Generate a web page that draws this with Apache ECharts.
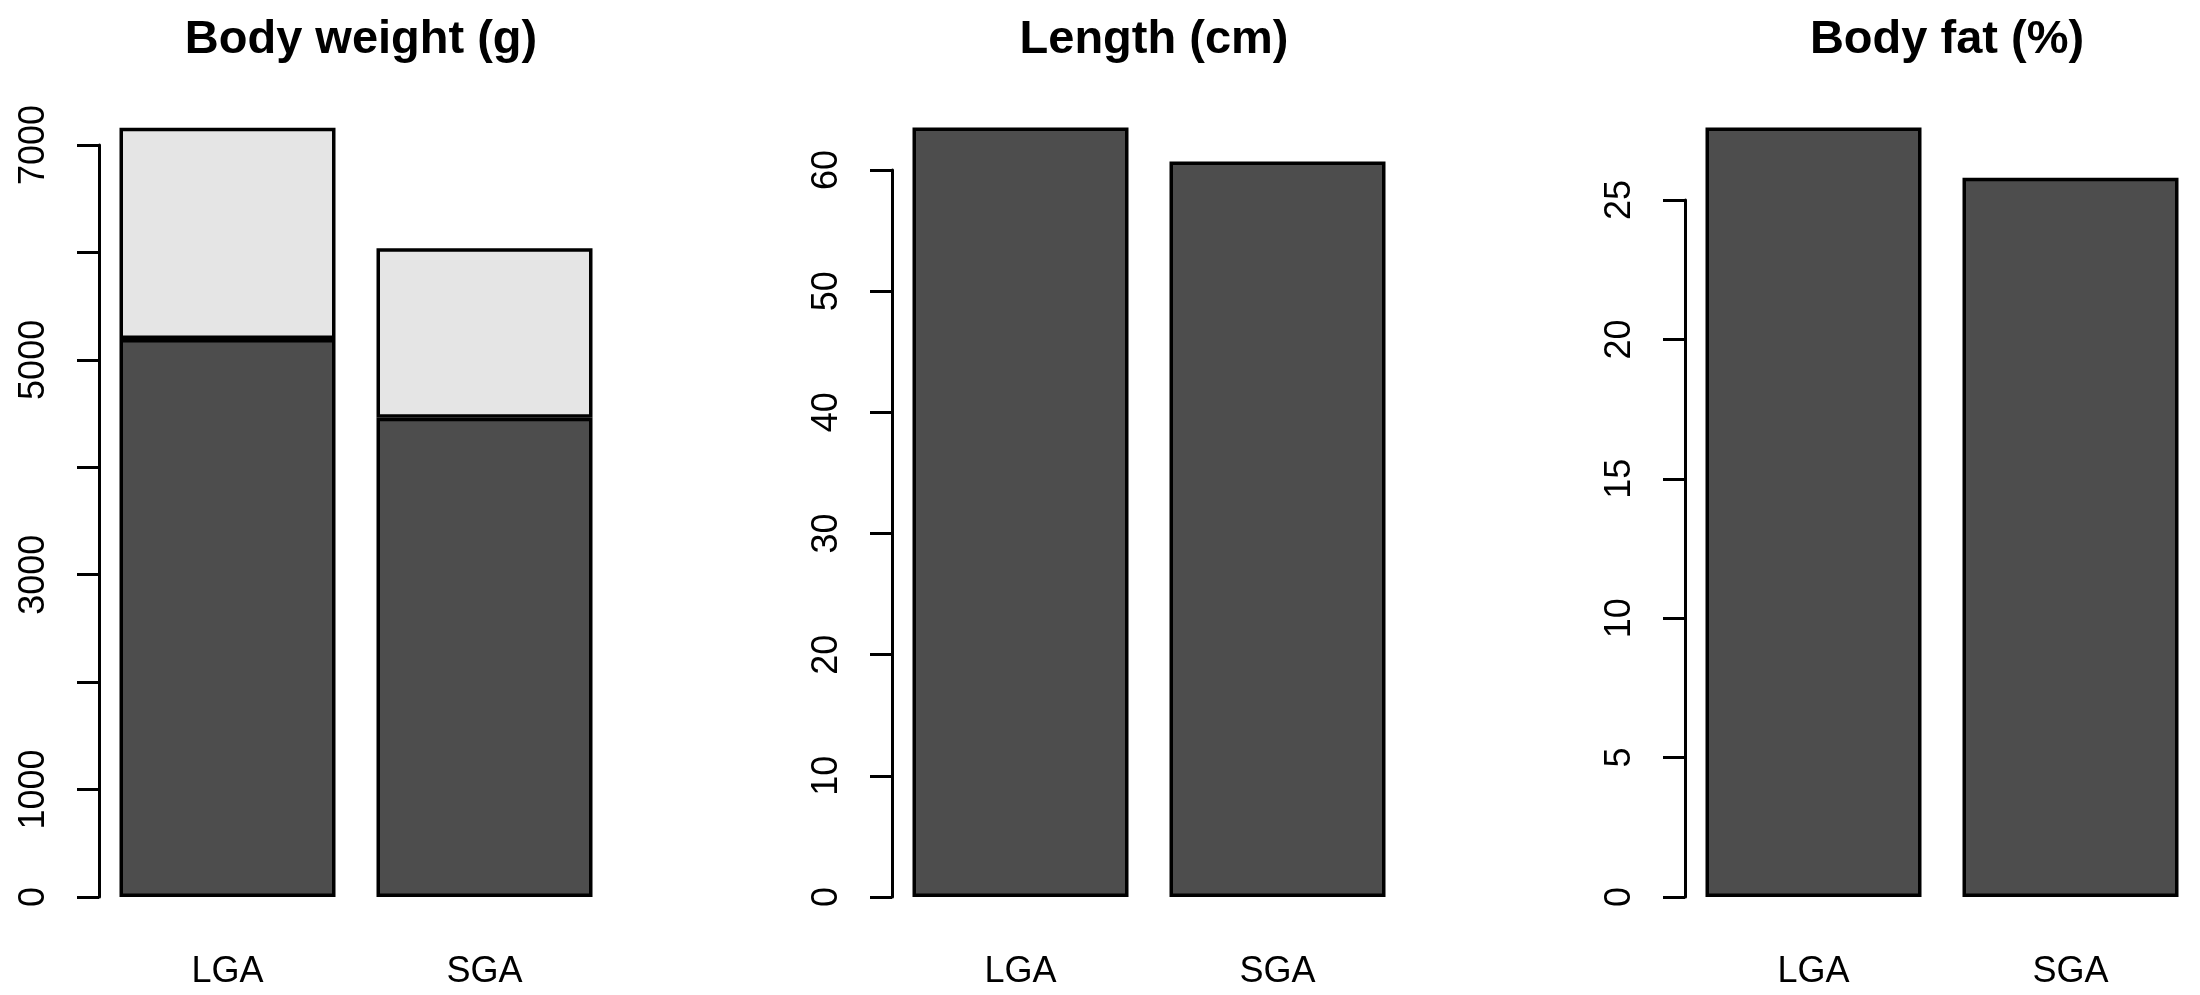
<!DOCTYPE html>
<html>
<head>
<meta charset="utf-8">
<script src="https://cdn.jsdelivr.net/npm/echarts@6/dist/echarts.min.js"></script>
<style>
html,body{margin:0;padding:0;background:#fff;}
#chart{width:2200px;height:995px;}
</style>
</head>
<body>
<div id="chart"></div>
<script>
// ---- data ----
const categories = ['LGA', 'SGA'];
const weightLean = [5195, 4460];     // dark lower segment (g)
const weightFat = [1965, 1580];      // light upper segment (g)
const lengthCm = [63.5, 60.7];
const bodyFatPct = [27.6, 25.8];
const titles = ['Body weight (g)', 'Length (cm)', 'Body fat (%)'];
const weightTickLabels = ['0', '1000', '3000', '5000', '7000'];
const lengthTickLabels = ['0', '10', '20', '30', '40', '50', '60'];
const fatTickLabels = ['0', '5', '10', '15', '20', '25'];

// ---- layout / style ----
const FONT = 'Liberation Sans, Arial, Helvetica, sans-serif';
const DARK = '#4d4d4d';
const LIGHT = '#e5e5e5';
const BW = 3.5;
const panels = [
  { left: 99,  top: 145, max: 7000, interval: 1000, labels: weightTickLabels },
  { left: 892, top: 170, max: 60,   interval: 10,   labels: lengthTickLabels },
  { left: 1685, top: 200, max: 25,  interval: 5,    labels: fatTickLabels }
];
const PLOT_W = 514;
const BOTTOM = 98;

const chart = echarts.init(document.getElementById('chart'), null, { renderer: 'canvas' });

const grid = panels.map(p => ({ left: p.left, top: p.top, width: PLOT_W, bottom: BOTTOM, containLabel: false }));
const xAxis = panels.map((p, i) => ({
  type: 'category', gridIndex: i, data: categories,
  axisLine: { show: false }, axisTick: { show: false }, splitLine: { show: false },
  axisLabel: { color: '#000', fontFamily: FONT, fontSize: 36, margin: 57 }
}));
const yAxis = panels.map((p, i) => ({
  type: 'value', gridIndex: i, min: 0, max: p.max, interval: p.interval,
  splitLine: { show: false },
  axisLine: { show: true, lineStyle: { color: '#000', width: 3 } },
  axisTick: { show: true, length: 22, lineStyle: { color: '#000', width: 3 } },
  axisLabel: {
    rotate: 90, color: '#000', fontFamily: FONT, fontSize: 36, margin: 47,
    formatter: v => (p.labels.indexOf(String(v)) >= 0 ? String(v) : '')
  }
}));
const title = panels.map((p, i) => ({
  text: titles[i], left: p.left + PLOT_W / 2, top: 12, textAlign: 'center',
  textStyle: { fontFamily: FONT, fontSize: 47, fontWeight: 'bold', color: '#000' }
}));

const barCommon = { type: 'bar', barWidth: 216, clip: false, silent: true };
const series = [
  Object.assign({}, barCommon, { xAxisIndex: 0, yAxisIndex: 0, stack: 'w', data: weightLean,
    itemStyle: { color: DARK, borderColor: '#000', borderWidth: BW } }),
  Object.assign({}, barCommon, { xAxisIndex: 0, yAxisIndex: 0, stack: 'w', data: weightFat,
    itemStyle: { color: LIGHT, borderColor: '#000', borderWidth: BW } }),
  Object.assign({}, barCommon, { xAxisIndex: 1, yAxisIndex: 1, data: lengthCm,
    itemStyle: { color: DARK, borderColor: '#000', borderWidth: BW } }),
  Object.assign({}, barCommon, { xAxisIndex: 2, yAxisIndex: 2, data: bodyFatPct,
    itemStyle: { color: DARK, borderColor: '#000', borderWidth: BW } })
];

chart.setOption({
  animation: false,
  backgroundColor: '#fff',
  title, grid, xAxis, yAxis, series
});
</script>
</body>
</html>
